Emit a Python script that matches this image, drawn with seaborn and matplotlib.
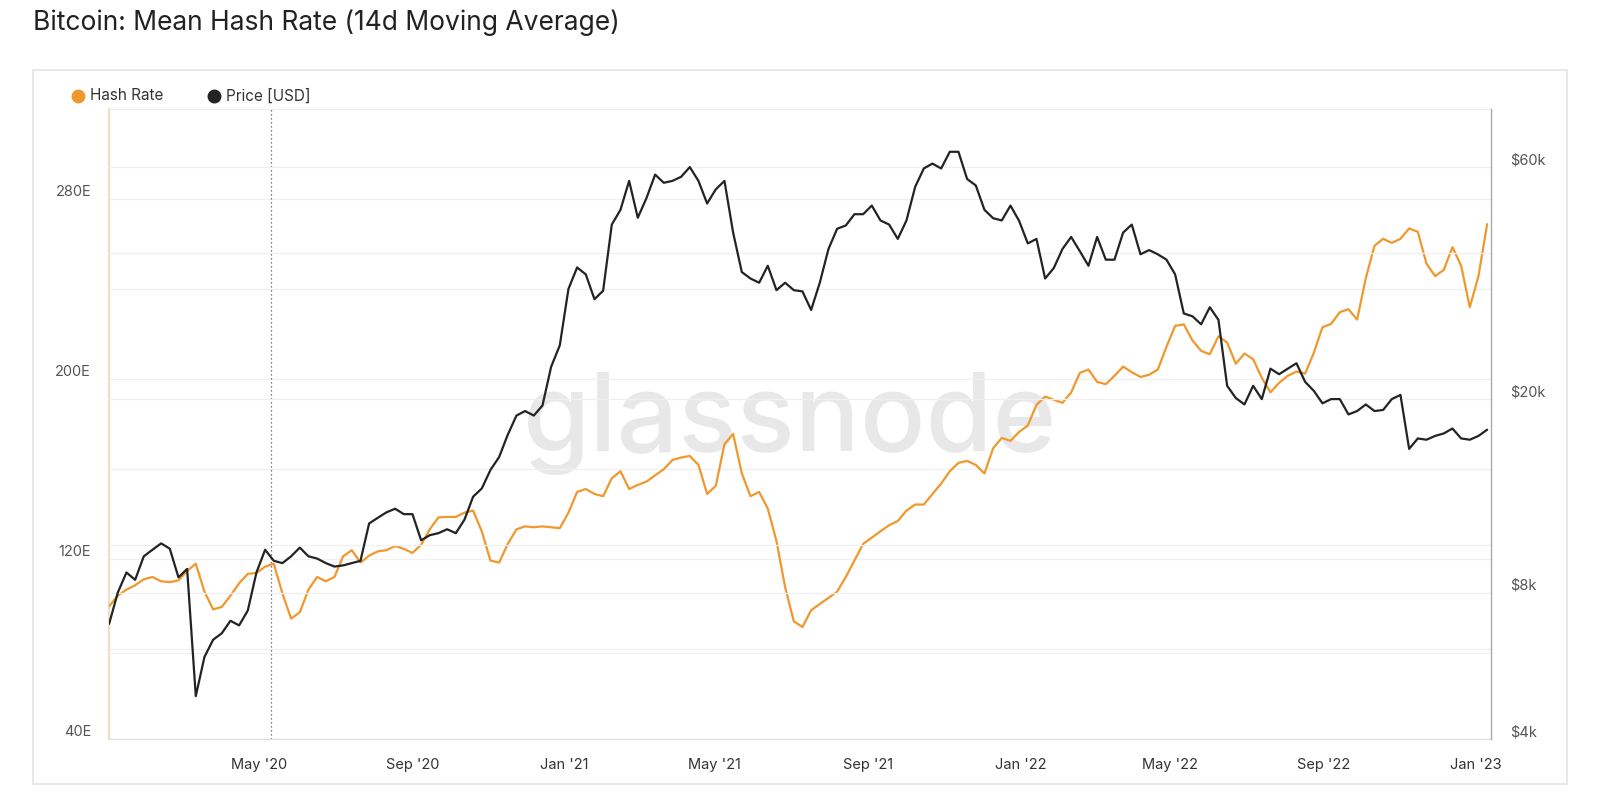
import pandas as pd
import numpy as np
import matplotlib
matplotlib.use("Agg")
import matplotlib.pyplot as plt
import matplotlib.dates as mdates
from matplotlib.ticker import FixedLocator, FuncFormatter, NullFormatter
from matplotlib.patches import Rectangle
from matplotlib.lines import Line2D
import seaborn as sns

# weekly readings, Jan 2020 -> Jan 2023
hash_rate = [
    99.0, 103.7, 106.4, 108.3, 111.0, 112.0, 110.1, 109.7, 110.5, 114.7,
    117.9, 105.5, 97.6, 98.7, 103.7, 109.2, 113.4, 113.8, 116.6, 117.9,
    104.6, 93.5, 96.3, 106.4, 112.0, 110.1, 112.0, 121.2, 123.9, 118.4,
    121.5, 123.4, 123.9, 125.8, 124.5, 122.7, 126.3, 133.2, 138.5, 138.7,
    138.7, 140.6, 141.5, 132.3, 119.3, 118.4, 126.7, 133.2, 134.5, 134.1,
    134.5, 134.1, 133.7, 140.6, 149.8, 151.1, 148.9, 147.9, 155.9, 159.0,
    151.1, 152.9, 154.4, 157.2, 159.9, 164.0, 165.1, 165.8, 161.8, 148.9,
    152.5, 171.0, 175.6, 158.1, 147.9, 149.8, 142.4, 128.0, 107.5, 92.3,
    89.8, 97.2, 100.0, 102.7, 105.5, 112.0, 119.3, 126.7, 129.5, 132.3,
    135.0, 136.9, 141.5, 144.2, 144.2, 148.9, 153.5, 159.0, 162.7, 163.6,
    161.8, 158.0, 169.2, 173.8, 172.5, 176.5, 179.3, 188.5, 192.2, 190.8,
    189.4, 194.0, 202.7, 204.2, 198.7, 197.7, 201.4, 205.5, 203.0, 200.9,
    201.9, 204.2, 214.3, 223.6, 224.3, 217.1, 212.5, 211.0, 219.0, 216.2,
    206.8, 211.3, 208.8, 200.5, 194.1, 198.3, 201.4, 203.3, 202.4, 211.6,
    223.0, 224.5, 229.7, 231.0, 226.4, 244.8, 259.2, 262.3, 260.5, 262.3,
    266.9, 265.4, 251.3, 245.7, 248.5, 258.6, 250.3, 231.9, 245.7, 268.8,
]

price_k = [
    6.9, 8.0, 8.8, 8.5, 9.5, 9.8, 10.1, 9.85, 8.6, 8.95,
    4.9, 5.9, 6.4, 6.6, 7.0, 6.85, 7.35, 8.8, 9.8, 9.3,
    9.2, 9.5, 9.9, 9.5, 9.4, 9.2, 9.05, 9.1, 9.2, 9.3,
    11.1, 11.4, 11.7, 11.9, 11.6, 11.6, 10.25, 10.5, 10.6, 10.8,
    10.6, 11.3, 12.6, 13.1, 14.3, 15.2, 16.9, 18.5, 18.9, 18.5,
    19.4, 23.3, 25.8, 33.7, 37.3, 36.1, 32.1, 33.4, 45.7, 49.0,
    56.2, 47.2, 51.8, 57.9, 55.7, 56.2, 57.3, 60.0, 56.2, 50.5,
    54.0, 56.2, 44.0, 36.5, 35.4, 34.7, 37.6, 33.5, 34.7, 33.5,
    33.3, 30.5, 34.7, 40.7, 44.8, 45.5, 48.0, 48.0, 50.0, 46.6,
    45.7, 42.7, 46.6, 54.6, 59.6, 61.0, 59.6, 64.5, 64.5, 56.7,
    55.0, 49.0, 47.1, 46.6, 50.0, 46.5, 41.8, 42.7, 35.4, 37.2,
    40.7, 43.1, 40.3, 37.6, 43.1, 38.7, 38.7, 44.0, 45.7, 39.7,
    40.5, 39.7, 38.7, 36.1, 30.0, 29.6, 28.5, 30.9, 29.1, 21.3,
    20.1, 19.5, 21.3, 20.0, 23.1, 22.5, 23.1, 23.7, 21.7, 20.8,
    19.6, 20.0, 20.0, 18.6, 18.9, 19.5, 18.9, 19.0, 20.0, 20.4,
    15.8, 16.6, 16.5, 16.8, 17.0, 17.4, 16.6, 16.5, 16.8, 17.3,
]

dates = pd.date_range("2020-01-02", "2023-01-10", periods=len(hash_rate))
halving = pd.Timestamp("2020-05-11")

hash_ticks = [40, 120, 200, 280]
hash_minor = [80, 160, 240]
price_ticks = [4000, 8000, 20000, 60000]
price_minor = [6000, 10000, 40000]

ORANGE = "#f0982d"
BLACK = "#232323"

df = pd.DataFrame({"date": dates, "hash": hash_rate, "price": np.array(price_k) * 1000})

sns.set_style("white")
plt.rcParams["font.family"] = ["Inter", "DejaVu Sans"]

fig = plt.figure(figsize=(16, 7.96), dpi=100)
fig.patches.append(Rectangle((0.0206, 0.015), 0.9585, 0.897, transform=fig.transFigure,
                             fill=False, edgecolor="#e4e4e4", linewidth=1.2))

ax = fig.add_axes([0.0682, 0.0716, 0.8636, 0.7915])
ax.text(0.493, 0.5, "glassnode", transform=ax.transAxes, ha="center", va="center",
        fontsize=78, color="#e8e8e8", fontweight="medium", zorder=0)

sns.lineplot(data=df, x="date", y="hash", ax=ax, color=ORANGE, linewidth=1.6, zorder=3)
ax.axvline(halving, color="#555555", linestyle=(0, (1, 2.2)), linewidth=0.9, zorder=2)

ax2 = ax.twinx()
sns.lineplot(data=df, x="date", y="price", ax=ax2, color=BLACK, linewidth=1.6, zorder=3)
ax2.set_yscale("log")

ax.set_xlim(pd.Timestamp("2020-01-02"), pd.Timestamp("2023-01-13"))
ax.set_ylim(40, 320)
ax2.set_ylim(4000, 79000)

ax.yaxis.set_major_locator(FixedLocator(hash_ticks))
ax.yaxis.set_minor_locator(FixedLocator(hash_minor))
ax.yaxis.set_major_formatter(FuncFormatter(lambda v, p: f"{int(v)}E"))
ax2.yaxis.set_major_locator(FixedLocator(price_ticks))
ax2.yaxis.set_minor_locator(FixedLocator(price_minor))
ax2.yaxis.set_major_formatter(FuncFormatter(lambda v, p: f"${int(v / 1000)}k"))
ax2.yaxis.set_minor_formatter(NullFormatter())

ax.xaxis.set_major_locator(mdates.MonthLocator(bymonth=[1, 5, 9]))
ax.xaxis.set_major_formatter(mdates.DateFormatter("%b '%y"))

for a in (ax, ax2):
    a.grid(True, axis="y", which="both", color="#f0f0f0", linewidth=0.9, zorder=1)
    a.set_xlabel("")
    a.set_ylabel("")

ax.tick_params(axis="y", which="both", length=0, pad=13, labelsize=10.5, labelcolor="#555555")
ax2.tick_params(axis="y", which="both", length=0, pad=14, labelsize=10.5, labelcolor="#555555")
ax.tick_params(axis="x", length=6, color="#e2e2e2", width=0.8, pad=8, labelsize=10.5,
               labelcolor="#333333")

for lab in ax.get_yticklabels() + ax2.get_yticklabels():
    lab.set_verticalalignment("bottom")

ax.spines["left"].set_color("#efdfc4")
ax.spines["left"].set_linewidth(1.6)
ax.spines["right"].set_visible(False)
ax.spines["top"].set_color("#eeeeee")
ax.spines["bottom"].set_color("#dddddd")
for s in ("left", "top", "bottom"):
    ax2.spines[s].set_visible(False)
ax2.spines["right"].set_color("#aaaaaa")
ax2.spines["right"].set_linewidth(1.0)

# title and legend
fig.text(0.0206, 0.971, "Bitcoin: Mean Hash Rate (14d Moving Average)", fontsize=19,
         color="#222222", va="center", ha="left")
for cx, tx, col, name in [(0.04875, 0.05625, ORANGE, "Hash Rate"),
                          (0.13375, 0.14125, BLACK, "Price [USD]")]:
    fig.add_artist(Line2D([cx], [0.8794], marker="o", markersize=9, color=col,
                          linestyle="", transform=fig.transFigure))
    fig.text(tx, 0.8794, name, fontsize=11, color="#333333", va="center", ha="left")

fig.savefig("out.png", dpi=100)
